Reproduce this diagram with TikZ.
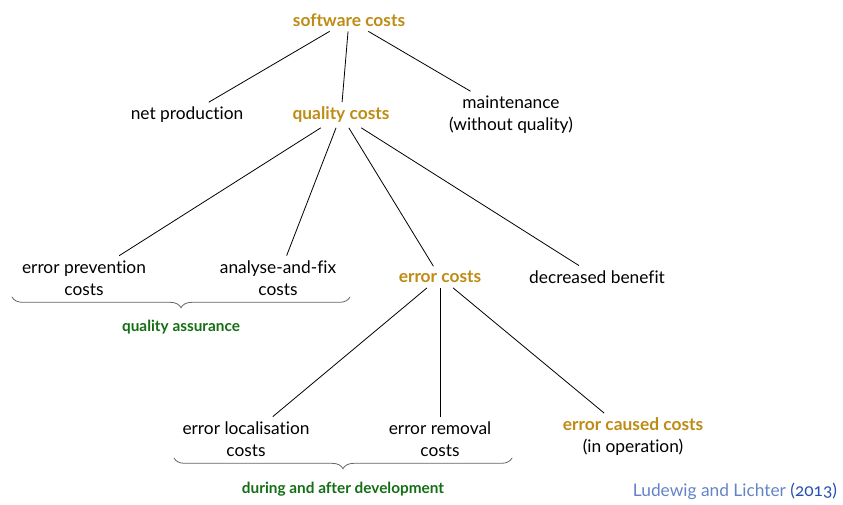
\documentclass[tikz,border=0pt]{standalone}
\usepackage{fontspec}
\setmainfont{Lato}[Ligatures={NoCommon}]
\usetikzlibrary{decorations.pathreplacing}
\definecolor{gold}{RGB}{190,140,20}
\definecolor{qagreen}{RGB}{20,110,20}
\definecolor{citelight}{RGB}{100,130,200}
\definecolor{citedark}{RGB}{40,80,180}
\definecolor{bracegray}{RGB}{100,100,100}
\begin{document}
\begin{tikzpicture}[x=0.75pt,y=-0.75pt,
  every node/.style={font=\fontsize{13}{16.5}\selectfont, inner sep=3.5pt, align=center},
  hl/.style={text=gold, font=\fontsize{13}{16.5}\selectfont\bfseries},
  grp/.style={text=qagreen, font=\fontsize{11.5}{13}\selectfont\bfseries},
  conn/.style={draw=black, line width=0.6pt},
  bracestyle/.style={draw=bracegray, line width=0.6pt, line cap=round, decorate, decoration={brace, amplitude=8pt}}]
\useasboundingbox (0,0) rectangle (843,504);

\node[hl] (sc) at (349,20) {software costs};
\node (np) at (187,115) {net production};
\node[hl] (qc) at (341,115) {quality costs};
\node (mt) at (511,115) {maintenance\\(without quality)};
\node (ep) at (84,278) {error prevention\\costs};
\node (af) at (278,278) {analyse-and-fix\\costs};
\node[hl] (ec) at (440,277) {error costs};
\node (db) at (597,277) {decreased benefit};
\node (el) at (246,439) {error localisation\\costs};
\node (er) at (440,439) {error removal\\costs};
\node (cc) at (633,437) {\textcolor{gold}{\bfseries error caused costs}\\(in operation)};

\draw[conn] (sc) -- (np);
\draw[conn] (sc) -- (qc);
\draw[conn] (sc) -- (mt);
\draw[conn] (qc) -- (ep);
\draw[conn] (qc) -- (af);
\draw[conn] (qc) -- (ec);
\draw[conn] (qc) -- (db);
\draw[conn] (ec) -- (el);
\draw[conn] (ec) -- (er);
\draw[conn] (ec) -- (cc);

\coordinate (qaL) at (12,297);
\coordinate (qaR) at (350,297);
\coordinate (daL) at (174,458);
\coordinate (daR) at (512,458);
\draw[bracestyle] (qaR) -- (qaL);
\draw[bracestyle] (daR) -- (daL);
\node[grp] (qa) at (181,327) {quality assurance};
\node[grp] (da) at (343,489) {during and after development};

\node[anchor=east, text=citelight] (cite) at (842,491) {Ludewig and Lichter \textcolor{citedark}{(\addfontfeatures{Numbers=OldStyle}2013)}};
\end{tikzpicture}
\end{document}
